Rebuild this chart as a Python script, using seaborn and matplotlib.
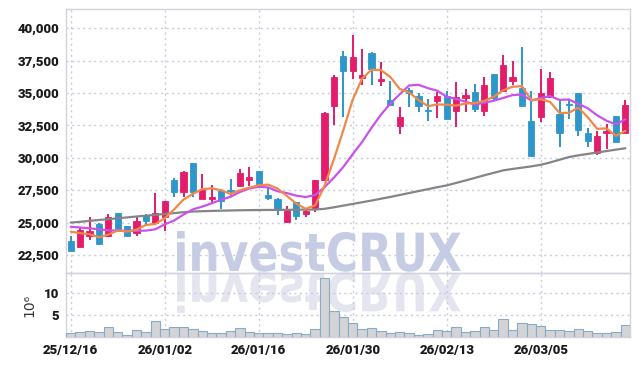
import numpy as np
import pandas as pd
import matplotlib
matplotlib.use("Agg")
import matplotlib.pyplot as plt
import seaborn as sns
from matplotlib.textpath import TextPath
from matplotlib.patches import PathPatch
from matplotlib.font_manager import FontProperties
from matplotlib.transforms import Affine2D, IdentityTransform

# ---------------- data ----------------
tick_idx = [0, 10, 20, 30, 40, 50]
tick_labels = ["25/12/16", "26/01/02", "26/01/16", "26/01/30", "26/02/13", "26/03/05"]

opens = [23580, 23140, 23970, 24890, 23990, 25740, 24720, 24220, 25590, 24990,
         25460, 28290, 27390, 29600, 26850, 26850, 27460, 27520, 27850, 28270,
         28980, 27130, 26850, 25020, 26570, 25640, 26100, 28290, 34030, 37860,
         36730, 36190, 38090, 35950, 34470, 32480, 35240, 34770, 33690, 34410,
         34750, 33640, 34620, 35080, 33640, 36470, 35160, 35930, 35390, 32840,
         33180, 34720, 33380, 34160, 35000, 31920, 30400, 31920, 33230, 31940]
highs = [23990, 24600, 25410, 24950, 25660, 25760, 24750, 25410, 25660, 27260,
         26700, 28420, 28980, 29620, 28750, 27880, 27480, 28390, 29110, 29270,
         29000, 27750, 26870, 26280, 26590, 26030, 28290, 33540, 36370, 38250,
         39460, 38430, 38150, 37420, 35930, 33900, 35370, 35030, 34520, 35060,
         35160, 35850, 35290, 35680, 36220, 36500, 37940, 37450, 38530, 35180,
         36830, 36600, 34470, 34570, 35030, 32330, 32070, 32590, 33250, 34470]
lows = [22780, 23090, 23660, 23270, 23910, 24370, 23950, 23990, 24760, 24950,
        24380, 26950, 27000, 26950, 26820, 26440, 26050, 27000, 27770, 27830,
        27900, 26750, 25590, 25000, 25200, 25410, 25840, 28210, 32510, 33180,
        36090, 35620, 35620, 35550, 34050, 31820, 33950, 33540, 32840, 33050,
        33000, 32360, 33560, 33540, 33230, 34470, 35060, 35600, 34000, 30150,
        32740, 34640, 30860, 32980, 31660, 30810, 30220, 30680, 31230, 31890]
closes = [22830, 24430, 24350, 23330, 25410, 24430, 23990, 25120, 25150, 25740,
          26670, 27390, 28930, 27390, 27520, 26980, 26690, 27460, 28830, 28500,
          27930, 26920, 25970, 25970, 25530, 25920, 28270, 33460, 36240, 36730,
          37760, 36400, 36880, 36090, 34080, 33150, 35030, 34030, 33640, 34770,
          33020, 34700, 34850, 33790, 35620, 34620, 37170, 36240, 34030, 30170,
          35000, 36160, 31940, 34100, 32170, 31320, 31690, 32070, 31250, 34080]
volumes_m = [0.9, 1.1, 1.35, 1.1, 2.4, 1.1, 0.45, 1.7, 1.1, 3.6,
             1.95, 2.25, 2.25, 1.95, 1.35, 0.9, 0.9, 1.35, 2.0, 1.2,
             0.9, 0.9, 0.9, 0.7, 0.9, 0.7, 1.95, 13.2, 5.8, 4.5,
             3.1, 1.8, 2.0, 1.35, 0.9, 1.1, 0.9, 0.45, 0.7, 1.55,
             1.35, 2.25, 1.1, 1.35, 2.25, 1.55, 4.0, 1.55, 3.1, 2.9,
             2.45, 1.55, 1.55, 1.35, 1.8, 1.35, 0.9, 0.9, 1.1, 2.7]
# moving-average values before enough closes are in the window
ma5_head = [24300, 24180, 24100, 23870]
ma10_head = [24680, 24620, 24560, 24480, 24400, 24380, 24370, 24360, 24380]
ma_long = [25000, 25060, 25130, 25200, 25260, 25330, 25400, 25470, 25530, 25600,
           25665, 25730, 25800, 25850, 25880, 25900, 25920, 25935, 25950, 25960,
           25970, 25975, 25980, 25985, 25990, 26000, 26010, 26060, 26180, 26310,
           26440, 26570, 26700, 26840, 26980, 27130, 27280, 27430, 27580, 27730,
           27870, 28060, 28250, 28450, 28650, 28840, 29030, 29140, 29240, 29340,
           29460, 29640, 29850, 30060, 30190, 30300, 30410, 30520, 30630, 30740]

# ---------------- frame ----------------
n = len(closes)
idx = np.arange(n)
df = pd.DataFrame({"i": idx, "open": opens, "high": highs, "low": lows,
                   "close": closes, "vol": volumes_m, "ma_long": ma_long})
roll5 = df["close"].rolling(5).mean()
roll10 = df["close"].rolling(10).mean()
roll5.iloc[:len(ma5_head)] = ma5_head
roll10.iloc[:len(ma10_head)] = ma10_head
df["ma5"] = roll5
df["ma10"] = roll10

UP = "#E31C6B"
DOWN = "#2E96C8"
GRID = "#c9cbe0"
SPINE = "#d2d3dc"

sns.set_theme(style="white")
plt.rcParams["font.family"] = ["Roboto", "DejaVu Sans"]

W, H = 639, 366
fig = plt.figure(figsize=(W / 100, H / 100), dpi=100, facecolor="white")
left = 66 / W
width = 564 / W
ax = fig.add_axes([left, 1 - 272.7 / H, width, (272.7 - 9) / H])
axv = fig.add_axes([left, 1 - 337.3 / H, width, (337.3 - 272.7) / H], sharex=ax)
for a in (ax, axv):
    a.set_facecolor("none")
    for s in a.spines.values():
        s.set_color(SPINE)
        s.set_linewidth(1.0)
    a.grid(True, color=GRID, linestyle=(0, (1.5, 2.5)), linewidth=1.0)
    a.set_axisbelow(True)
    a.tick_params(length=0, labelsize=9.5, colors="#1a1a1a", pad=5)

# candles
up = df["close"] >= df["open"]
colors = np.where(up, UP, DOWN)
body_lo = np.minimum(df["open"], df["close"])
body_h = np.maximum((df["open"] - df["close"]).abs(), 60)
ax.vlines(df["i"], df["low"], df["high"], colors=colors, linewidth=1.4, zorder=3)
ax.bar(df["i"], body_h, bottom=body_lo, width=0.64, color=colors,
       edgecolor=colors, linewidth=0.6, zorder=4)

# moving averages
sns.lineplot(data=df, x="i", y="ma_long", ax=ax, color="#858585", linewidth=1.6, zorder=5)
sns.lineplot(data=df, x="i", y="ma10", ax=ax, color="#C853EC", linewidth=1.6, zorder=5)
sns.lineplot(data=df, x="i", y="ma5", ax=ax, color="#F08848", linewidth=1.6, zorder=6)

ax.set_xlim(-0.5, n - 0.5)
ax.set_ylim(21130, 41490)
yt = [22500, 25000, 27500, 30000, 32500, 35000, 37500, 40000]
ax.set_yticks(yt)
ax.set_yticklabels([f"{v:,}" for v in yt], fontweight="black")
ax.set_xlabel("")
ax.set_ylabel("")
ax.tick_params(axis="x", labelbottom=False)

# volume
axv.bar(df["i"], df["vol"], width=1.0, color="#d4d4d6", edgecolor="#86acc8",
        linewidth=0.8, zorder=3)
axv.set_ylim(0, 14.5)
axv.set_yticks([5, 10])
axv.set_yticklabels(["5", "10"], fontweight="black")
axv.set_xticks(tick_idx)
axv.set_xticklabels(tick_labels, fontweight="black")
axv.set_ylabel("10\u2076", fontsize=10, color="#333333", labelpad=5,
               fontfamily="DejaVu Sans")
axv.set_xlabel("")

# watermark with reflection
fp = FontProperties(family="DejaVu Sans", weight="bold")
tp = TextPath((0, 0), "investCRUX", size=1, prop=fp)
bb = tp.get_extents()
x0, x1 = 177, 461
top, base = 232, 272
sx = (x1 - x0) / bb.width
sy = (base - top) / bb.y1
base_disp = H - base
main_tr = Affine2D().translate(-bb.x0, 0).scale(sx, sy).translate(x0, base_disp + 1)
refl_tr = Affine2D().translate(-bb.x0, 0).scale(sx, -sy).translate(x0, base_disp - 1)
fig.add_artist(PathPatch(main_tr.transform_path(tp), transform=IdentityTransform(),
                         facecolor="#c7cce5", edgecolor="none", zorder=-1))
fig.add_artist(PathPatch(refl_tr.transform_path(tp), transform=IdentityTransform(),
                         facecolor="#e4e5ef", edgecolor="none", zorder=-1))

fig.savefig("out.png", dpi=100, facecolor="white")
